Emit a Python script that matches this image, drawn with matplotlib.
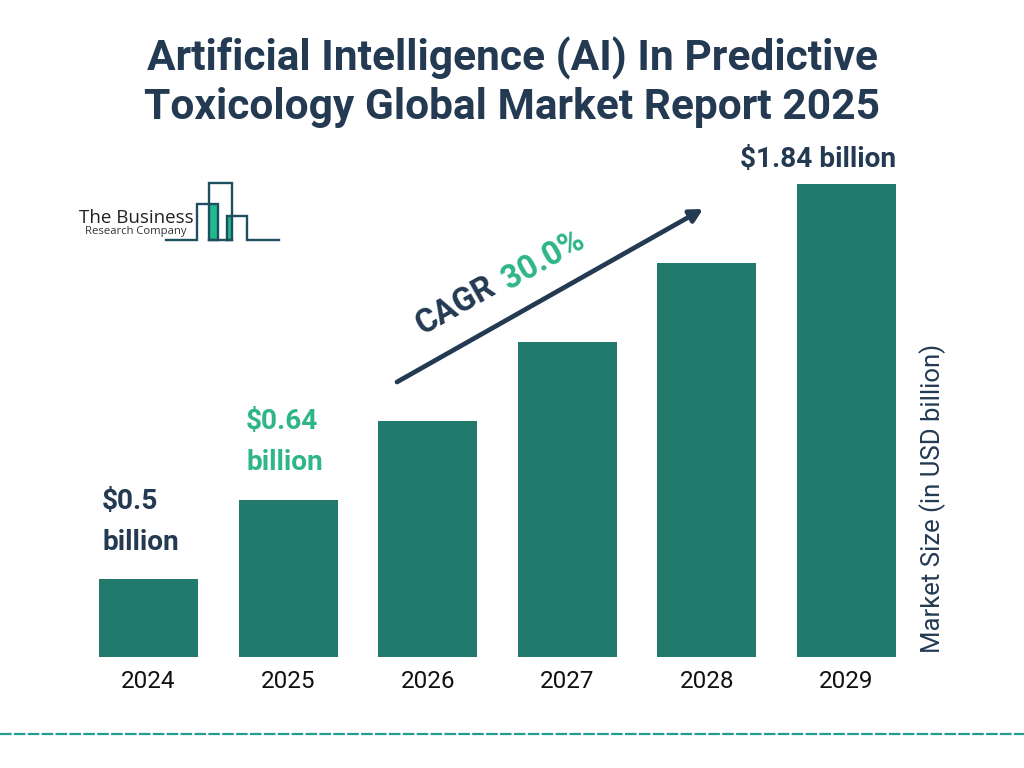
import matplotlib
matplotlib.use("Agg")
import matplotlib.pyplot as plt
from matplotlib.patches import Rectangle

years = ["2024", "2025", "2026", "2027", "2028", "2029"]
# The bars rise in even steps, not in proportion to the printed values
bar_heights = [78, 157, 236, 315, 394, 473]
value_labels = ["$0.5\nbillion", "$0.64\nbillion", "", "", "", "$1.84 billion"]

NAVY = "#233a52"
TEAL = "#217a6b"
GREEN = "#2fb58a"
LOGO = "#1f4e5f"

plt.rcParams["font.family"] = ["Roboto", "DejaVu Sans"]
plt.rcParams["text.parse_math"] = False

W, H = 1024, 768
fig = plt.figure(figsize=(W / 100, H / 100), dpi=100, facecolor="white")

# chart axes
L, R, T, B = 78.7, 916.3, 184, 657
ax = fig.add_axes([L / W, 1 - B / H, (R - L) / W, (B - T) / H])
ax.bar(range(len(years)), bar_heights, width=0.709, color=TEAL)
ax.set_xlim(-0.5, 5.5)
ax.set_ylim(0, 473)
ax.set_xticks(range(len(years)))
ax.set_xticklabels(years, fontsize=17.5, color="#111111")
ax.tick_params(axis="x", length=0, pad=9)
ax.set_yticks([])
for s in ax.spines.values():
    s.set_visible(False)
ax.patch.set_alpha(0)

# overlay in pixel coordinates
ov = fig.add_axes([0, 0, 1, 1], zorder=5)
ov.set_xlim(0, W)
ov.set_ylim(H, 0)
ov.axis("off")

ov.text(512, 58, "Artificial Intelligence (AI) In Predictive", ha="center", va="center",
        fontsize=30.6, fontweight="bold", color=NAVY)
ov.text(512, 107, "Toxicology Global Market Report 2025", ha="center", va="center",
        fontsize=30.6, fontweight="bold", color=NAVY)

ov.text(102, 502, "$0.5", ha="left", va="center", fontsize=20.2, fontweight="bold", color=NAVY)
ov.text(102, 542, "billion", ha="left", va="center", fontsize=20.2, fontweight="bold", color=NAVY)
ov.text(246, 422, "$0.64", ha="left", va="center", fontsize=20.2, fontweight="bold", color=GREEN)
ov.text(246, 462, "billion", ha="left", va="center", fontsize=20.2, fontweight="bold", color=GREEN)
ov.text(818, 160, value_labels[5], ha="center", va="center", fontsize=20.2, fontweight="bold", color=NAVY)

ov.text(933, 498, "Market Size (in USD billion)", rotation=90, ha="center", va="center",
        fontsize=18.5, color=NAVY)

# CAGR arrow and text
ov.annotate("", xy=(703, 209), xytext=(397, 382),
            arrowprops=dict(arrowstyle="-|>,head_length=0.75,head_width=0.4", lw=3.4,
                            color=NAVY, shrinkA=0, shrinkB=0))
ov.text(456, 306, "CAGR", rotation=29.5, ha="center", va="center", rotation_mode="anchor",
        fontsize=23.5, fontweight="bold", color=NAVY)
ov.text(543, 260, "30.0%", rotation=29.5, ha="center", va="center", rotation_mode="anchor",
        fontsize=23.5, fontweight="bold", color=GREEN)

# logo
ov.add_patch(Rectangle((209, 204), 9, 36, facecolor="#1dbb8e", edgecolor="none"))
ov.add_patch(Rectangle((227, 216), 5, 24, facecolor="#1dbb8e", edgecolor="none"))
ov.plot([166, 197, 197, 218, 218, 209, 209, 232, 232, 209], [240, 240, 204, 204, 240, 240, 183, 183, 240, 240],
        color=LOGO, lw=1.7, solid_joinstyle="miter")
ov.plot([227, 227, 247, 247, 279], [240, 216, 216, 240, 240], color=LOGO, lw=1.7, solid_joinstyle="miter")
ov.plot([227, 232], [240, 240], color=LOGO, lw=1.7)
ov.text(79, 223, "The Business", ha="left", va="baseline", fontsize=13.5, color="#222222", family="Open Sans")
ov.text(85, 234, "Research Company", ha="left", va="baseline", fontsize=8.1, color="#333333", family="Open Sans")

# dashed footer
ov.plot([0, W], [734, 734], color="#1f9e8f", lw=1.6, dashes=(5.2, 1.05))

fig.savefig("out.png", dpi=100, facecolor="white")
